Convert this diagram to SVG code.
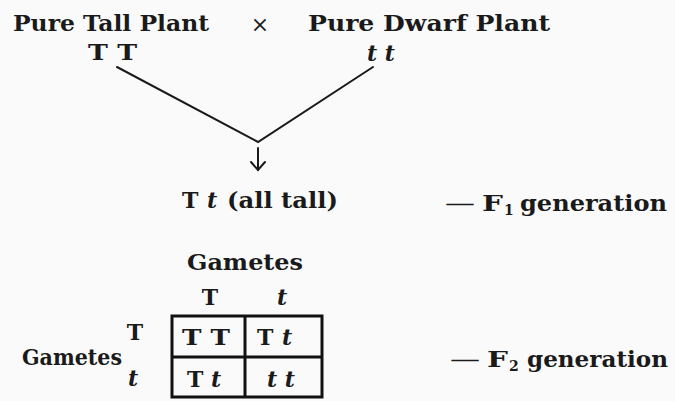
<svg xmlns="http://www.w3.org/2000/svg" width="675" height="401" viewBox="0 0 675 401">
  <style>
    .t { font-family: "DejaVu Serif", "Liberation Serif", serif; font-weight: bold; font-size: 22px; fill: #1a1a1a; }
    .i { font-style: italic; }
    .sub { font-size: 14px; }
    .ln { stroke: #1a1a1a; stroke-width: 2; fill: none; stroke-linecap: round; }
    .box { stroke: #111; stroke-width: 3; fill: none; }
  </style>
  <rect width="675" height="401" fill="#fafafa"/>

  <g id="parent-tall">
    <text class="t" x="13" y="31" textLength="196" lengthAdjust="spacingAndGlyphs">Pure Tall Plant</text>
    <text class="t" x="88" y="60" textLength="49" lengthAdjust="spacingAndGlyphs">T T</text>
  </g>
  <g id="cross">
    <text class="t" x="260" y="32" text-anchor="middle" style="font-weight:normal">×</text>
  </g>
  <g id="parent-dwarf">
    <text class="t" x="308" y="31" textLength="242" lengthAdjust="spacingAndGlyphs">Pure Dwarf Plant</text>
    <text class="t i" x="367" y="61" textLength="28" lengthAdjust="spacingAndGlyphs">t t</text>
  </g>

  <g id="connectors">
    <polyline class="ln" points="117,67 258,142 373,67"/>
    <line class="ln" x1="258" y1="148" x2="258" y2="170" stroke-width="1.6"/>
    <polyline class="ln" points="251,162 258,170 265,162" stroke-width="1.6"/>
  </g>

  <g id="f1">
    <text class="t" x="182" y="208">T</text>
    <text class="t i" x="207" y="208">t</text>
    <text class="t" x="227" y="208" textLength="111" lengthAdjust="spacingAndGlyphs">(all tall)</text>
  </g>
  <g id="f1-label">
    <text class="t" x="445" y="211" textLength="30" lengthAdjust="spacingAndGlyphs" style="font-weight:normal">—</text>
    <text class="t" x="482" y="211" textLength="21" lengthAdjust="spacingAndGlyphs">F</text>
    <text class="t sub" x="504" y="215">1</text>
    <text class="t" x="520" y="211" textLength="147" lengthAdjust="spacingAndGlyphs">generation</text>
  </g>

  <g id="punnett">
    <text class="t" x="187" y="270" textLength="116" lengthAdjust="spacingAndGlyphs">Gametes</text>
    <text class="t" x="210" y="305" text-anchor="middle">T</text>
    <text class="t i" x="282" y="305" text-anchor="middle">t</text>
    <text class="t" x="135" y="340" text-anchor="middle">T</text>
    <text class="t i" x="133" y="386" text-anchor="middle">t</text>
    <text class="t" x="22" y="365" textLength="100" lengthAdjust="spacingAndGlyphs">Gametes</text>
    <rect class="box" x="172" y="316" width="150" height="81"/>
    <line class="box" x1="245" y1="316" x2="245" y2="397" stroke-width="2.5"/>
    <line class="box" x1="172" y1="357" x2="322" y2="357" stroke-width="2.5"/>
    <text class="t" x="182" y="345" textLength="48" lengthAdjust="spacingAndGlyphs">T T</text>
    <text class="t" x="257" y="345">T</text>
    <text class="t i" x="282" y="345">t</text>
    <text class="t" x="187" y="387">T</text>
    <text class="t i" x="211" y="387">t</text>
    <text class="t i" x="267" y="387" textLength="28" lengthAdjust="spacingAndGlyphs">t t</text>
  </g>
  <g id="f2-label">
    <text class="t" x="450" y="367" textLength="30" lengthAdjust="spacingAndGlyphs" style="font-weight:normal">—</text>
    <text class="t" x="487" y="367" textLength="21" lengthAdjust="spacingAndGlyphs">F</text>
    <text class="t sub" x="509" y="371">2</text>
    <text class="t" x="527" y="367" textLength="141" lengthAdjust="spacingAndGlyphs">generation</text>
  </g>
</svg>
